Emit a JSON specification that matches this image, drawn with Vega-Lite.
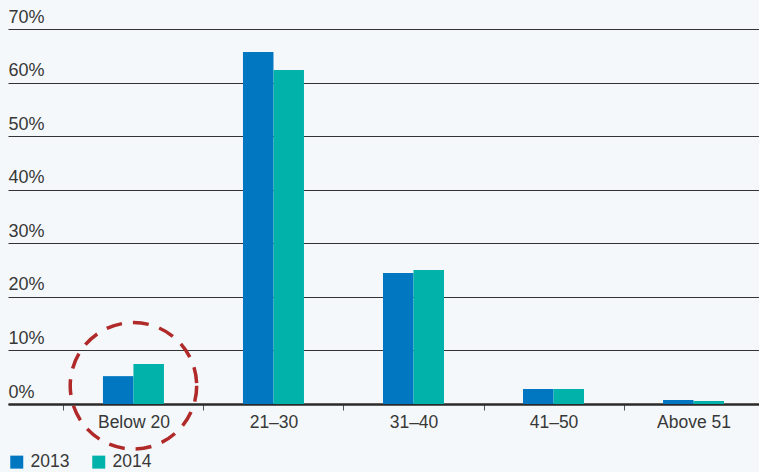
{
  "$schema": "https://vega.github.io/schema/vega-lite/v6.json",
  "width": 751,
  "height": 375,
  "autosize": {"type": "none"},
  "padding": {"left": 8, "top": 29, "right": 0, "bottom": 68},
  "background": "#f5f8fb",
  "config": {
    "view": {"stroke": null},
    "font": "Liberation Sans"
  },
  "layer": [
    {
      "data": {
        "values": [
          {"group": "Below 20", "year": "2013", "pct": 5.2},
          {"group": "Below 20", "year": "2014", "pct": 7.47},
          {"group": "21–30", "year": "2013", "pct": 65.7},
          {"group": "21–30", "year": "2014", "pct": 62.35},
          {"group": "31–40", "year": "2013", "pct": 24.45},
          {"group": "31–40", "year": "2014", "pct": 25.0},
          {"group": "41–50", "year": "2013", "pct": 2.8},
          {"group": "41–50", "year": "2014", "pct": 2.8},
          {"group": "Above 51", "year": "2013", "pct": 0.75},
          {"group": "Above 51", "year": "2014", "pct": 0.56}
        ]
      },
      "mark": {"type": "bar"},
      "encoding": {
        "x": {
          "field": "group",
          "type": "nominal",
          "sort": ["Below 20", "21–30", "31–40", "41–50", "Above 51"],
          "scale": {"range": [0, 811], "paddingInner": 0, "paddingOuter": 0.396},
          "axis": {
            "title": null,
            "labelAngle": 0,
            "labelFontSize": 17.5,
            "labelColor": "#383838",
            "labelPadding": 3,
            "tickBand": "extent",
            "tickSize": 6,
            "tickColor": "#555555",
            "domainColor": "#2a2a2a",
            "domainWidth": 2.6,
            "grid": false
          }
        },
        "xOffset": {
          "field": "year",
          "type": "nominal",
          "scale": {"range": [39.5, 100.5], "paddingInner": 0, "paddingOuter": 0}
        },
        "y": {
          "field": "pct",
          "type": "quantitative",
          "scale": {"domain": [0, 70], "nice": false},
          "axis": {
            "title": null,
            "values": [0, 10, 20, 30, 40, 50, 60, 70],
            "labelExpr": "datum.value + '%'",
            "grid": true,
            "gridColor": "#333333",
            "gridWidth": 1,
            "domain": false,
            "ticks": false,
            "tickSize": 0,
            "labelAlign": "left",
            "labelBaseline": "bottom",
            "labelPadding": 0,
            "labelOffset": -3,
            "labelFontSize": 18,
            "labelColor": "#383838"
          }
        },
        "color": {
          "field": "year",
          "type": "nominal",
          "scale": {"domain": ["2013", "2014"], "range": ["#0077c0", "#00b2a9"]},
          "legend": {
            "title": null,
            "orient": "bottom",
            "direction": "horizontal",
            "symbolType": "square",
            "symbolSize": 169,
            "symbolStrokeWidth": 0,
            "symbolOpacity": 1,
            "labelFontSize": 17.5,
            "labelColor": "#383838",
            "labelOffset": 5,
            "columnPadding": 20,
            "offset": 22
          }
        }
      }
    },
    {
      "data": {"values": [{"group": "Below 20", "pct": 3.4}]},
      "mark": {
        "type": "point",
        "shape": "circle",
        "size": 16000,
        "filled": false,
        "stroke": "#b02a2a",
        "strokeWidth": 3.5,
        "strokeDash": [16, 11],
        "opacity": 1
      },
      "encoding": {
        "x": {"field": "group", "type": "nominal", "sort": ["Below 20", "21–30", "31–40", "41–50", "Above 51"]},
        "y": {"field": "pct", "type": "quantitative"}
      }
    }
  ]
}
